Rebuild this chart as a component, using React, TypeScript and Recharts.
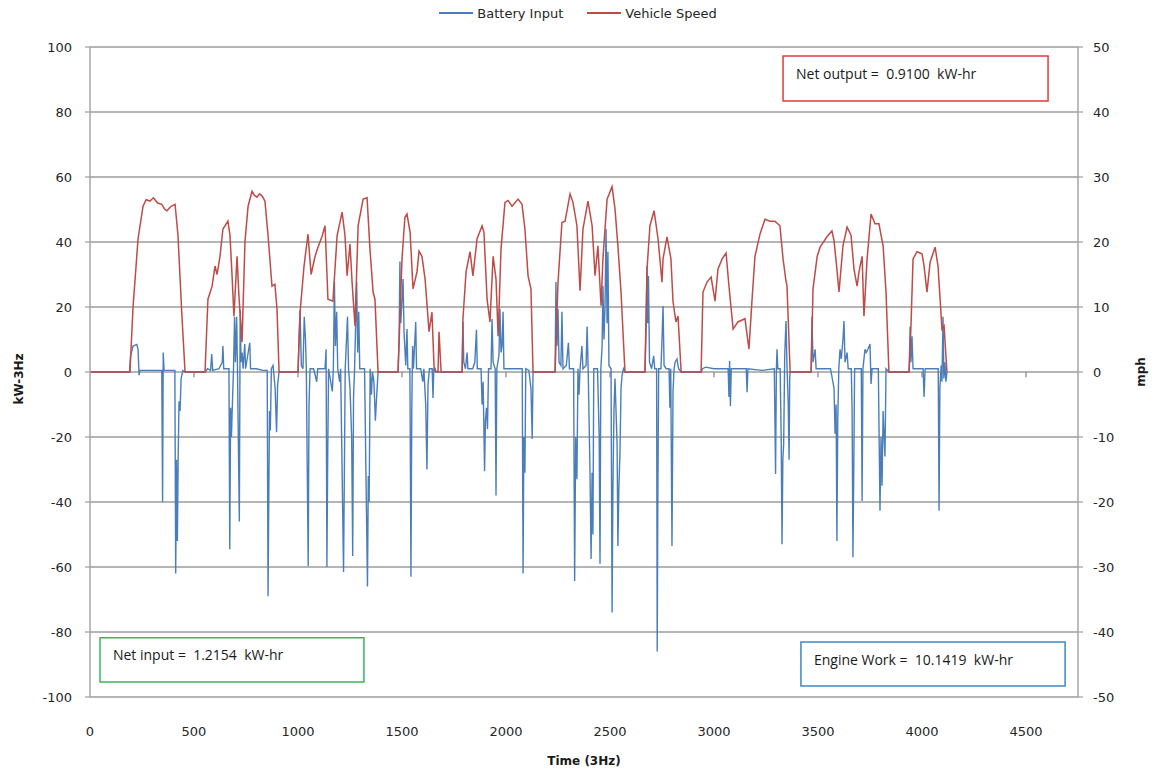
import React from 'react';
import {
  LineChart,
  Line,
  XAxis,
  YAxis,
  CartesianGrid,
  Legend,
  ReferenceArea,
  ReferenceLine,
} from 'recharts';

const FONT = '"DejaVu Sans", Verdana, sans-serif';
const NOTE_FONT = '"Open Sans", "DejaVu Sans", sans-serif';
const BLUE = '#4A7EBB';
const RED = '#BE4B48';
const GRID = '#9c9c9c';
const AXIS = '#a6a6a6';

const xTicks = [0, 500, 1000, 1500, 2000, 2500, 3000, 3500, 4000, 4500];
const leftTicks = [-100, -80, -60, -40, -20, 0, 20, 40, 60, 80, 100];
const rightTicks = [-50, -40, -30, -20, -10, 0, 10, 20, 30, 40, 50];

const seriesNames = ['Battery Input', 'Vehicle Speed'];
const noteTexts = ['Net output =  0.9100  kW-hr', 'Net input =  1.2154  kW-hr', 'Engine Work =  10.1419  kW-hr'];
const noteColors = ['#e8383b', '#3cb55a', '#3f86c4'];
// [x1, x2, y1, y2] in data units (time, kW)
const noteAreas: [number, number, number, number][] = [
  [3332, 4606, 97.2, 83.4],
  [48, 1317, -81.8, -95.4],
  [3418, 4688, -83.1, -96.6],
];

// Vehicle speed, mph: [time sample, mph]
const speedSamples: [number, number][] = [
  [0, 0], [192, 0], [207, 10], [231, 20.5], [255, 25.5], [270, 26.5], [288, 26.3], [305, 26.8], [325, 26], [345, 25.8], [360, 25], [370, 24.8], [390, 25.5], [409, 25.8], [423, 21], [442, 8.6], [457, 0],
  [553, 0], [567, 11.2], [587, 13.2], [601, 16.3], [611, 15], [625, 17.8], [639, 22], [663, 23.2], [673, 21], [683, 14.8], [692, 8.6], [707, 17.8], [716, 11.7], [731, 4.6], [745, 20], [760, 25.5], [779, 27.8], [790, 27.2], [803, 26.9], [815, 27.4], [827, 27.1], [841, 26.3], [856, 21], [875, 13.2], [889, 13.5], [899, 9.7], [909, 0],
  [1000, 0], [1010, 9.2], [1029, 16.3], [1048, 21.2], [1063, 15], [1082, 17.8], [1096, 19.2], [1115, 20.8], [1130, 22.5], [1144, 11.2], [1168, 10.9], [1188, 21], [1212, 24.6], [1226, 21], [1236, 14.8], [1250, 19.7], [1260, 13.8], [1274, 7.1], [1289, 22.5], [1313, 26.6], [1332, 26.8], [1346, 18.9], [1361, 12.3], [1370, 11.2], [1385, 0],
  [1481, 0], [1500, 17.4], [1514, 23.8], [1524, 24.3], [1539, 21.5], [1553, 12.8], [1572, 15.4], [1582, 18.6], [1596, 17.8], [1611, 14.3], [1630, 6.2], [1644, 9.2], [1654, 0.9], [1664, 0], [1673, 0], [1678, 6.2], [1688, 0],
  [1789, 0], [1793, 8.2], [1808, 15.4], [1827, 18.5], [1841, 14.8], [1861, 20.5], [1885, 22.5], [1894, 21.5], [1909, 11.2], [1923, 7.7], [1938, 17.8], [1952, 14.3], [1962, 5.5], [1976, 18.9], [1995, 26.1], [2010, 26.4], [2029, 25.5], [2058, 26.6], [2077, 25.8], [2091, 22], [2106, 14.8], [2120, 12.8], [2130, 0],
  [2236, 0], [2250, 13.8], [2269, 23], [2284, 23.2], [2308, 27.4], [2322, 26.1], [2341, 22.5], [2356, 12.5], [2370, 22], [2394, 26.3], [2414, 22.5], [2428, 14.8], [2442, 19.4], [2457, 10.2], [2466, 17.4], [2486, 26.6], [2510, 28.5], [2524, 25.1], [2538, 19.4], [2553, 12.3], [2572, 0],
  [2668, 0], [2678, 15.8], [2692, 22.5], [2712, 24.8], [2731, 20.5], [2750, 13.8], [2755, 17.4], [2774, 20.8], [2793, 17.4], [2803, 10.8], [2817, 7.7], [2827, 8.6], [2842, 0],
  [2938, 0], [2947, 12.3], [2966, 13.8], [2986, 14.6], [3005, 10.9], [3019, 15.8], [3039, 17.4], [3058, 18.3], [3072, 13.2], [3092, 6.6], [3115, 7.7], [3149, 8.2], [3168, 3.5], [3183, 11.2], [3197, 17.8], [3221, 21.2], [3245, 23.5], [3269, 23.2], [3293, 23.2], [3317, 22.5], [3332, 17.4], [3346, 14], [3351, 13.2], [3366, 0],
  [3467, 0], [3476, 12.8], [3496, 17.8], [3510, 19.2], [3543, 20.8], [3567, 21.7], [3577, 20.2], [3591, 15.8], [3601, 12.3], [3620, 19.4], [3640, 22.3], [3659, 21], [3673, 15.8], [3688, 13.2], [3697, 15.4], [3712, 17.8], [3721, 8.6], [3736, 17.4], [3755, 24.3], [3774, 22.8], [3793, 22.8], [3813, 19.4], [3827, 12.3], [3841, 0],
  [3938, 0], [3947, 7.1], [3957, 17.4], [3976, 18.5], [4000, 18.2], [4010, 16.3], [4024, 12.3], [4039, 16.9], [4063, 19.2], [4077, 16.3], [4096, 6.6], [4106, 7.1], [4120, 0],
];

// Battery input, kW: [time sample, kW]
const batterySamples: [number, number][] = [
  [0, 0], [190, 0], [195, 5], [207, 8], [225, 8.5], [231, 7], [236, -1], [240, 0.5], [345, 0.5], [349, -40], [352, 6], [356, 0.5], [408, 0.5], [412, -62], [416, -27], [420, -52], [424, -26], [428, -9], [433, -12], [438, -2], [447, 0.5], [457, 0],
  [553, 0], [565, 1], [580, 0.5], [585, 5.5], [590, 0.5], [620, 1], [636, 3], [639, 8], [643, 1], [668, 1], [672, -54.5], [676, -11], [680, -20], [684, -11], [690, 1], [695, 17], [699, 3], [705, 17], [709, 1], [718, -46], [722, 19], [726, 3], [731, 6], [736, 1], [744, 8.6], [748, 1], [768, 9], [772, 1], [800, 1], [830, 0.5], [852, 0.5], [856, -69], [860, -35], [863, -12], [867, -18], [872, 1], [880, 2], [890, -5], [897, -18.5], [902, -4], [909, 0],
  [1000, 0], [1005, 10], [1010, 19], [1016, 2], [1024, 1], [1030, 17], [1036, 10], [1040, 1], [1049, -59.7], [1053, -10], [1058, 1], [1075, 1], [1090, -3], [1095, 1], [1130, 1], [1135, 7], [1139, -60], [1143, -25], [1147, 1], [1165, -6], [1170, 1], [1175, 27.7], [1180, 8], [1186, 18.5], [1191, 1], [1200, -3], [1205, 1], [1219, -61.5], [1223, -30], [1227, 1], [1238, 17], [1243, 1], [1250, -5], [1258, -20], [1263, -56.6], [1267, -8], [1272, 1], [1282, 27.7], [1287, 6], [1292, 18.5], [1297, 1], [1320, 1], [1334, -66], [1338, -32], [1342, -40], [1347, 1], [1353, -7], [1358, 0], [1365, -3], [1372, -15], [1376, -10], [1385, 0],
  [1481, 0], [1486, 10], [1490, 34], [1494, 15], [1500, 22], [1505, 28.6], [1510, 12], [1518, 2], [1524, 13.2], [1528, 1], [1538, 1], [1543, -63], [1547, -12], [1551, 8], [1555, 1], [1566, 15.4], [1570, 1], [1590, 1], [1600, -3], [1605, 1], [1614, -10], [1620, -30], [1625, -4], [1632, 1], [1645, 1], [1649, -8], [1653, 1], [1664, 0], [1688, 0],
  [1789, 0], [1793, 15.4], [1797, 3], [1805, 1], [1813, 6], [1817, 1], [1840, 1], [1850, 3], [1858, 13], [1862, 1], [1880, 1], [1885, -10], [1890, -3], [1897, -30.5], [1901, -15], [1906, -11], [1911, -17.5], [1916, 1], [1928, 1], [1933, 16.3], [1938, 3], [1948, 1], [1952, -38], [1956, 1], [1966, 5], [1971, 19.4], [1976, 6], [1981, 8], [1986, 18.5], [1990, 1], [2010, 1], [2040, 1], [2060, 1], [2078, 1], [2082, -62], [2086, -20], [2091, -31], [2095, 1], [2110, 0.5], [2120, -5], [2126, -20.6], [2130, 0],
  [2236, 0], [2240, 27.7], [2245, 8], [2250, 19.4], [2255, 3], [2264, 2], [2269, 18.5], [2274, 1], [2290, 2], [2300, 9], [2305, 1], [2325, 1], [2330, -64.3], [2335, -20], [2341, -33], [2346, 1], [2351, -7], [2356, 1], [2365, 8], [2370, 1], [2385, 2], [2390, 14], [2395, 1], [2404, -31], [2409, -57.5], [2414, -31], [2418, -50], [2422, 1], [2440, 1], [2448, -20], [2452, -59], [2456, 1], [2462, 8], [2466, 26.5], [2471, 10], [2476, 20], [2481, 44], [2486, 15], [2490, 37], [2495, 2], [2505, 1], [2510, -74], [2514, -36], [2519, -12], [2524, -2], [2534, -22], [2538, -53.5], [2543, -35], [2548, -24.6], [2553, -5], [2558, -1], [2565, 1], [2572, 0],
  [2668, 0], [2673, 12], [2678, 32.6], [2681, 15], [2685, 29.5], [2690, 3], [2700, 1], [2710, 5], [2715, 1], [2724, 1], [2727, -86], [2730, -40], [2734, 1], [2745, 1], [2750, 10], [2755, 20.3], [2760, 2], [2770, 1], [2784, 1], [2788, -11], [2792, 1], [2798, -53.5], [2803, -6], [2808, 1], [2813, 3], [2822, 4], [2830, 1], [2842, 0],
  [2938, 0], [2945, 1], [2960, 1.5], [3000, 1], [3040, 1], [3068, 1], [3072, -7.7], [3075, 3.4], [3079, -10.5], [3083, 1], [3120, 1], [3155, 1], [3159, -6.2], [3163, 1], [3230, 0.5], [3290, 1], [3296, -31.4], [3300, 1], [3303, 7], [3307, 1], [3318, 1], [3323, -20], [3327, -53], [3331, -27], [3335, -22], [3340, 5], [3346, 15.7], [3351, 2], [3357, -10], [3361, -27], [3364, -2], [3366, 0],
  [3467, 0], [3471, 17], [3476, 3], [3486, 7], [3491, 1], [3530, 1], [3560, 1], [3577, -5], [3582, -19], [3587, -10], [3591, -52], [3595, -15], [3600, 1], [3606, 7], [3612, 4], [3620, 10], [3625, 15.7], [3630, 3], [3640, 6], [3645, 1], [3660, 1], [3664, -12], [3668, -57], [3672, -30], [3676, 1], [3690, 1], [3708, 1], [3712, -39.7], [3716, 1], [3726, 7], [3732, 6], [3740, 7], [3750, 8.6], [3755, -3.7], [3760, 1], [3790, 1], [3798, -42.7], [3803, -20], [3808, -35], [3813, -12], [3818, -20], [3822, -26], [3827, 1], [3835, 0.5], [3841, 0],
  [3938, 0], [3943, 14], [3947, 3], [3952, 11], [3957, 1], [3990, 1], [4005, 1], [4010, -7.7], [4015, 1], [4060, 1], [4078, 1], [4082, -42.7], [4086, -5], [4092, 2], [4096, -3], [4101, 17], [4105, -2], [4110, 3], [4115, -3], [4120, 0],
];

const speedData = speedSamples.map(([t, v]) => ({ t, mph: v }));
const batteryData = batterySamples.map(([t, v]) => ({ t, kw: v }));

const LegendContent = () => (
  <div style={{ height: 47, position: 'relative', fontFamily: FONT, fontSize: 13, color: '#262626' }}>
    <div
      style={{
        position: 'absolute',
        top: 4,
        left: 0,
        right: 0,
        height: 18,
        display: 'flex',
        justifyContent: 'center',
        alignItems: 'center',
      }}
    >
      {seriesNames.map((name, i) => (
        <div key={name} style={{ display: 'flex', alignItems: 'center', marginLeft: i === 0 ? 0 : 24 }}>
          <span style={{ display: 'inline-block', width: 34, height: 2, background: i === 0 ? BLUE : RED, marginRight: 4 }} />
          <span>{name}</span>
        </div>
      ))}
    </div>
  </div>
);

const LeftTitle = (props: any) => {
  const vb = props.viewBox || {};
  const cx = vb.x + 19;
  const cy = vb.y + vb.height / 2 + 7;
  return (
    <text x={cx} y={cy} transform={`rotate(-90 ${cx} ${cy})`} textAnchor="middle" dominantBaseline="central" fontFamily={FONT} fontSize={12} fontWeight="bold" fill="#1a1a1a">
      kW-3Hz
    </text>
  );
};

const RightTitle = (props: any) => {
  const vb = props.viewBox || {};
  const cx = vb.x + 63;
  const cy = vb.y + vb.height / 2;
  return (
    <text x={cx} y={cy} transform={`rotate(-90 ${cx} ${cy})`} textAnchor="middle" dominantBaseline="central" fontFamily={FONT} fontSize={12} fontWeight="bold" fill="#1a1a1a">
      mph
    </text>
  );
};

const BottomTitle = (props: any) => {
  const vb = props.viewBox || {};
  return (
    <text x={vb.x + vb.width / 2} y={vb.y + 64} textAnchor="middle" dominantBaseline="central" fontFamily={FONT} fontSize={12} fontWeight="bold" fill="#1a1a1a">
      Time (3Hz)
    </text>
  );
};

const makeNoteLabel = (text: string) => (props: any) => {
  const vb = props.viewBox || {};
  return (
    <text x={vb.x + 13} y={vb.y + 17} dominantBaseline="central" fontFamily={NOTE_FONT} fontSize={14} fill="#1a1a1a" style={{ whiteSpace: 'pre' }}>
      {text}
    </text>
  );
};

export default function App() {
  const tickStyle = { fill: '#262626', fontSize: 13, fontFamily: FONT };
  return (
    <div style={{ position: 'absolute', left: 0, top: 0, width: 1156, height: 774, background: '#ffffff' }}>
      <LineChart width={1156} height={774} margin={{ top: 0, right: 0, bottom: 0, left: 0 }}>
        <CartesianGrid yAxisId="left" vertical={false} stroke={GRID} strokeWidth={1.3} />
        <XAxis
          dataKey="t"
          type="number"
          domain={[0, 4750]}
          ticks={xTicks}
          interval={0}
          allowDataOverflow
          height={77}
          axisLine={false}
          tickLine={false}
          tickMargin={24}
          tick={tickStyle}
          label={BottomTitle}
        />
        <YAxis
          yAxisId="left"
          orientation="left"
          width={90}
          type="number"
          domain={[-100, 100]}
          ticks={leftTicks}
          interval={0}
          allowDataOverflow
          axisLine={{ stroke: AXIS, strokeWidth: 1.5 }}
          tickLine={{ stroke: AXIS, strokeWidth: 1.3 }}
          tickSize={5}
          tickMargin={13}
          tick={tickStyle}
          label={LeftTitle}
        />
        <YAxis
          yAxisId="right"
          orientation="right"
          width={78}
          type="number"
          domain={[-50, 50]}
          ticks={rightTicks}
          interval={0}
          allowDataOverflow
          axisLine={{ stroke: AXIS, strokeWidth: 1.5 }}
          tickLine={{ stroke: AXIS, strokeWidth: 1.3 }}
          tickSize={5}
          tickMargin={10}
          tick={tickStyle}
          label={RightTitle}
        />
        <Legend verticalAlign="top" align="center" content={LegendContent} wrapperStyle={{ top: 0, left: 0, width: 1156 }} />
        {xTicks.slice(1).map((t) => (
          <ReferenceLine
            key={`zt-${t}`}
            yAxisId="left"
            segment={[{ x: t, y: 0 }, { x: t, y: -1.6 }]}
            stroke="#8c8c8c"
            strokeWidth={1.3}
          />
        ))}
        <Line
          yAxisId="left"
          data={batteryData}
          dataKey="kw"
          name={seriesNames[0]}
          type="linear"
          stroke={BLUE}
          strokeWidth={1.4}
          dot={false}
          isAnimationActive={false}
        />
        <Line
          yAxisId="right"
          data={speedData}
          dataKey="mph"
          name={seriesNames[1]}
          type="linear"
          stroke={RED}
          strokeWidth={1.5}
          dot={false}
          isAnimationActive={false}
        />
        {noteAreas.map(([x1, x2, y1, y2], i) => (
          <ReferenceArea
            key={`note-${i}`}
            yAxisId="left"
            x1={x1}
            x2={x2}
            y1={y1}
            y2={y2}
            fill="#ffffff"
            fillOpacity={1}
            stroke={noteColors[i]}
            strokeWidth={1.5}
            label={makeNoteLabel(noteTexts[i])}
          />
        ))}
      </LineChart>
    </div>
  );
}
